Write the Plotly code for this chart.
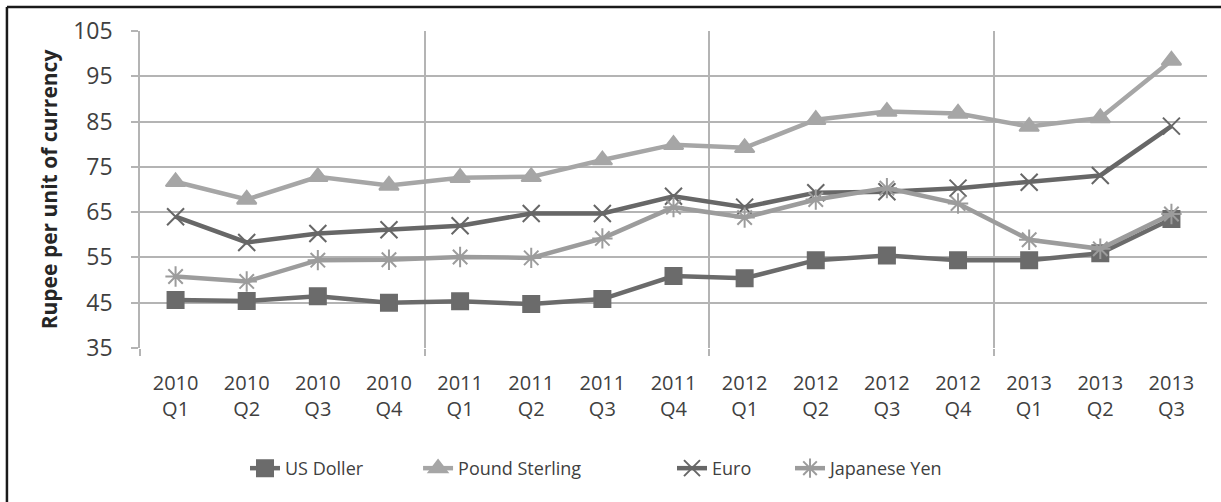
import plotly.graph_objects as go

categories = ["2010<br>Q1", "2010<br>Q2", "2010<br>Q3", "2010<br>Q4",
              "2011<br>Q1", "2011<br>Q2", "2011<br>Q3", "2011<br>Q4",
              "2012<br>Q1", "2012<br>Q2", "2012<br>Q3", "2012<br>Q4",
              "2013<br>Q1", "2013<br>Q2", "2013<br>Q3"]

us_dollar = [45.6, 45.4, 46.4, 45.0, 45.3, 44.7, 45.8, 50.9, 50.4, 54.4, 55.4, 54.4, 54.4, 55.9, 63.5]
pound_sterling = [71.7, 67.8, 72.8, 70.9, 72.6, 72.8, 76.5, 79.9, 79.2, 85.4, 87.2, 86.8, 83.9, 85.8, 98.5]
euro = [64.0, 58.3, 60.3, 61.1, 62.0, 64.7, 64.7, 68.5, 66.1, 69.3, 69.5, 70.3, 71.6, 73.1, 84.0]
japanese_yen = [50.8, 49.7, 54.4, 54.5, 55.1, 54.9, 59.2, 66.1, 63.8, 67.8, 70.3, 66.9, 58.9, 56.9, 64.6]

series = [
    ("US Doller", us_dollar, "#6b6b6b", "square", 16, "legend"),
    ("Pound Sterling", pound_sterling, "#a6a6a6", "triangle-up", 17, "legend2"),
    ("Euro", euro, "#676767", "x-thin-open", 17, "legend3"),
    ("Japanese Yen", japanese_yen, "#9c9c9c", "asterisk-open", 17, "legend4"),
]

fig = go.Figure()
for name, vals, color, symbol, size, leg in series:
    fig.add_trace(go.Scatter(
        x=categories, y=vals, name=name, mode="lines+markers",
        line=dict(color=color, width=4.5),
        marker=dict(symbol=symbol, size=size, color=color,
                    line=dict(color=color, width=2)),
        legend=leg,
    ))

# helper overlay axis for year-boundary gridlines
fig.add_trace(go.Scatter(x=[-0.5, 14.5], y=[35, 35], xaxis="x2", mode="lines",
                         line=dict(width=0), showlegend=False, hoverinfo="skip"))

font_family = "Open Sans, Liberation Sans, sans-serif"
leg_common = dict(orientation="h", xanchor="left", y=-0.38, yanchor="middle",
                  font=dict(size=18, color="#404040"), bgcolor="rgba(0,0,0,0)")

fig.update_layout(
    width=1221, height=502,
    margin=dict(l=140, r=14, t=31, b=154),
    paper_bgcolor="white", plot_bgcolor="white",
    font=dict(family=font_family, color="#404040"),
    xaxis=dict(
        type="category", range=[-0.5, 14.5], showgrid=False,
        showline=False, ticks="", zeroline=False,
        tickfont=dict(size=20, color="#404040"),
        ticklabelstandoff=21,
    ),
    xaxis2=dict(
        overlaying="x", range=[-0.5, 14.5], tickvals=[-0.5, 3.5, 7.5, 11.5],
        showticklabels=False, showgrid=True, gridcolor="#b4b4b4", gridwidth=1.5,
        ticks="outside", ticklen=7, tickcolor="#b4b4b4", tickwidth=1.5,
        side="bottom", anchor="y", zeroline=False,
    ),
    yaxis=dict(
        range=[35, 105], tick0=35, dtick=10, showgrid=True,
        gridcolor="#b4b4b4", gridwidth=1.5, zeroline=False,
        showline=True, linecolor="#b4b4b4", linewidth=1.5,
        ticks="outside", ticklen=7, tickcolor="#b4b4b4", tickwidth=1.5,
        tickfont=dict(size=23, color="#404040"),
        ticklabelstandoff=14,
        title=dict(text="<b>Rupee per unit of currency</b>",
                   font=dict(size=21, color="#262626"), standoff=10),
    ),
    legend=dict(x=0.0984, **leg_common),
    legend2=dict(x=0.2606, **leg_common),
    legend3=dict(x=0.4986, **leg_common),
    legend4=dict(x=0.6092, **leg_common),
    showlegend=True,
    shapes=[
        dict(type="line", xref="paper", yref="paper", x0=-0.1247, x1=-0.1247,
             y0=-0.6, y1=1.0757, line=dict(color="#1a1a1a", width=2.5)),
        dict(type="line", xref="paper", yref="paper", x0=-0.1247, x1=1.1,
             y0=1.0757, y1=1.0757, line=dict(color="#1a1a1a", width=2.5)),
    ],
)

fig.write_html("out.html")
